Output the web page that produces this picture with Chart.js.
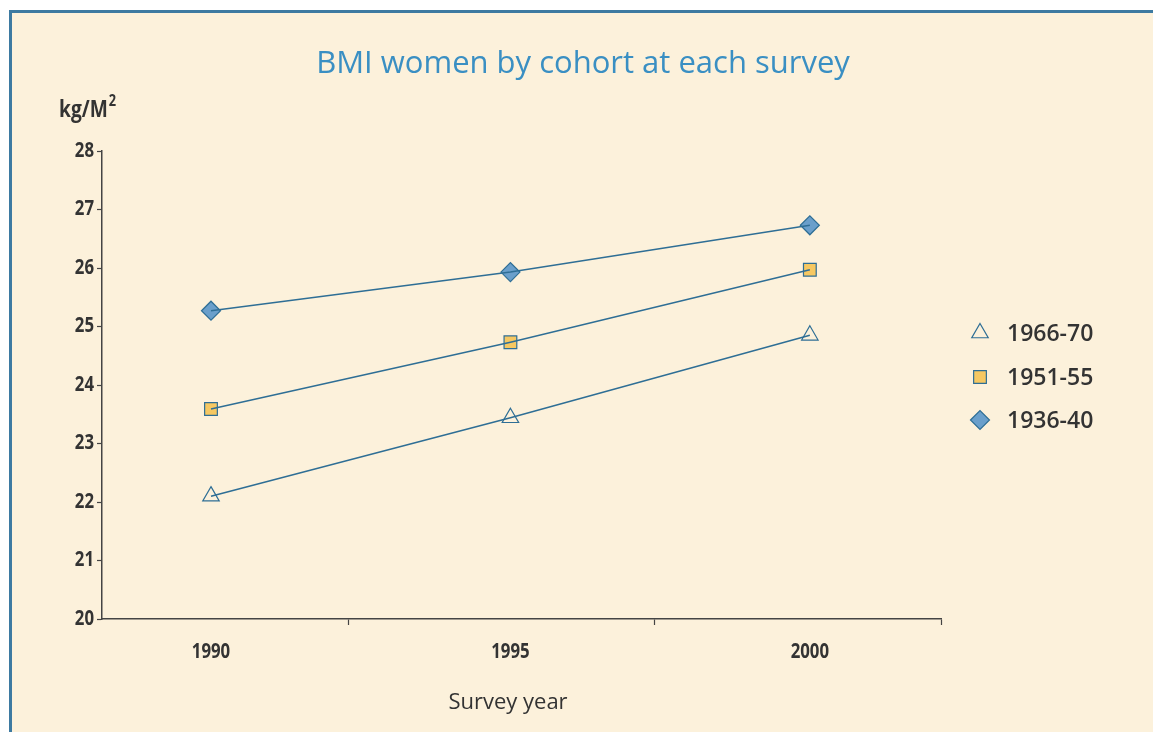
<!DOCTYPE html>
<html>
<head>
<meta charset="utf-8">
<script src="https://cdn.jsdelivr.net/npm/chart.js@4/dist/chart.umd.min.js"></script>
<style>
  html, body { margin: 0; padding: 0; background: #fff; overflow: hidden; }
  #frame { position: absolute; left: 9px; top: 10px; width: 1160px; height: 740px;
           border-left: 3px solid #3d7aa1; border-top: 3px solid #3d7aa1; background: #fcf1db; }
  #wrap { position: absolute; left: 0; top: 0; width: 1153px; height: 732px; }
</style>
</head>
<body>
<div id="frame"></div>
<div id="wrap"><canvas id="chart" width="1153" height="732"></canvas></div>
<script>
// datos
const years = [1990, 1995, 2000];
const cohorts = ['1966-70', '1951-55', '1936-40'];
const bmi6670 = [22.1, 23.44, 24.85];
const bmi5155 = [23.59, 24.73, 25.97];
const bmi3640 = [25.27, 25.93, 26.73];
const yTicks = [20, 21, 22, 23, 24, 25, 26, 27, 28];
const xMarks = [1992.3, 1997.4, 2002.19]; // marcas sin etiqueta del eje x

const title = 'BMI women by cohort at each survey';
const yUnit = 'kg/M';
const xTitle = 'Survey year';

const lineColor = '#2e6e95';
const sans = '"Open Sans", sans-serif';
const NARROW = 0.8; // compresion horizontal para imitar la fuente condensada

const styles = [
  { pointStyle: 'triangle', bg: '#fcf1db', radius: 9.5 },
  { pointStyle: 'rect', bg: '#f6c862', radius: 9 },
  { pointStyle: 'rectRot', bg: '#6a9fcb', radius: 9.5 }
];
const series = [bmi6670, bmi5155, bmi3640];
const toXY = (vals) => vals.map((v, j) => ({ x: years[j], y: v }));

// marcadores (debajo) y lineas (encima), como en el original
const markerSets = series.map((vals, i) => ({
  label: cohorts[i],
  data: toXY(vals),
  showLine: false,
  order: 1,
  pointStyle: styles[i].pointStyle,
  pointRadius: styles[i].radius,
  pointHoverRadius: styles[i].radius,
  pointBackgroundColor: styles[i].bg,
  pointBorderColor: lineColor,
  pointBorderWidth: 1.2
}));
const lineSets = series.map((vals, i) => ({
  label: cohorts[i] + ' line',
  data: toXY(vals),
  order: 0,
  borderColor: lineColor,
  borderWidth: 1.5,
  pointRadius: 0,
  pointHoverRadius: 0,
  tension: 0,
  fill: false
}));

// dibuja el texto estrechado alrededor de su punto de anclaje
function squeeze(ctx, k, fn) {
  const orig = CanvasRenderingContext2D.prototype.fillText;
  ctx.fillText = function(t, x, y) {
    this.save();
    this.translate(x, y);
    this.scale(k, 1);
    orig.call(this, t, 0, 0);
    this.restore();
  };
  try { fn(); } finally { delete ctx.fillText; }
}

const condense = (s) => {
  if (s._squeezed) return;
  s._squeezed = true;
  const base = s.drawLabels.bind(s);
  s.drawLabels = (area) => squeeze(s.ctx, NARROW, () => base(area));
};

const textPlugin = {
  id: 'textos',
  afterDraw(chart) {
    const ctx = chart.ctx;
    ctx.save();
    // titulo
    ctx.fillStyle = '#3a8fc3';
    ctx.font = '31px ' + sans;
    ctx.textAlign = 'center';
    ctx.textBaseline = 'alphabetic';
    ctx.fillText(title, 583, 73);
    // unidad eje y
    ctx.fillStyle = '#333';
    ctx.textAlign = 'left';
    ctx.font = 'bold 24px ' + sans;
    const w = ctx.measureText(yUnit).width * NARROW;
    squeeze(ctx, NARROW, () => {
      ctx.fillText(yUnit, 59, 117);
      ctx.font = 'bold 16px ' + sans;
      ctx.fillText('2', 59 + w + 1, 106);
    });
    // titulo eje x
    ctx.textAlign = 'center';
    ctx.font = '22px ' + sans;
    ctx.fillText(xTitle, 508, 709);
    // leyenda
    const ly = [333, 377, 420];
    markerSets.forEach((ds, i) => {
      ctx.fillStyle = ds.pointBackgroundColor;
      ctx.strokeStyle = ds.pointBorderColor;
      ctx.lineWidth = 1.2;
      Chart.helpers.drawPoint(ctx, { pointStyle: ds.pointStyle, radius: ds.pointRadius, rotation: 0, borderWidth: 1.2 }, 980, ly[i]);
      ctx.fillStyle = '#333';
      ctx.textAlign = 'left';
      ctx.textBaseline = 'middle';
      ctx.font = '600 23px ' + sans;
      ctx.fillText(ds.label, 1007, ly[i] + 1);
    });
    ctx.restore();
  }
};

new Chart(document.getElementById('chart'), {
  type: 'line',
  data: { datasets: markerSets.concat(lineSets) },
  options: {
    responsive: false,
    animation: false,
    layout: { padding: { left: 0, top: 151, right: 212, bottom: 0 } },
    plugins: { legend: { display: false }, tooltip: { enabled: false }, title: { display: false } },
    scales: {
      x: {
        type: 'linear',
        min: 1988.18,
        max: 2002.19,
        afterFit: (s) => { s.height = 113; condense(s); },
        afterBuildTicks: (s) => {
          s.ticks = years.concat(xMarks).sort((a, b) => a - b).map(v => ({ value: v }));
        },
        ticks: {
          autoSkip: false,
          maxRotation: 0,
          padding: 14,
          color: '#333',
          font: { family: sans, size: 21, weight: 'bold' },
          callback: (v) => years.includes(v) ? String(v) : ''
        },
        grid: {
          drawOnChartArea: false,
          tickLength: 6,
          tickWidth: 1.2,
          tickColor: (c) => (c.tick && years.includes(c.tick.value)) ? 'rgba(0,0,0,0)' : '#444'
        },
        border: { color: '#444', width: 1.5 }
      },
      y: {
        min: 20,
        max: 28,
        afterFit: (s) => { s.width = 102; condense(s); },
        afterBuildTicks: (s) => { s.ticks = yTicks.map(v => ({ value: v })); },
        ticks: {
          padding: 3,
          color: '#333',
          font: { family: sans, size: 21, weight: 'bold' }
        },
        grid: { drawOnChartArea: false, tickLength: 5, tickWidth: 1.2, tickColor: '#444' },
        border: { color: '#444', width: 1.5 }
      }
    }
  },
  plugins: [textPlugin]
});
</script>
</body>
</html>
